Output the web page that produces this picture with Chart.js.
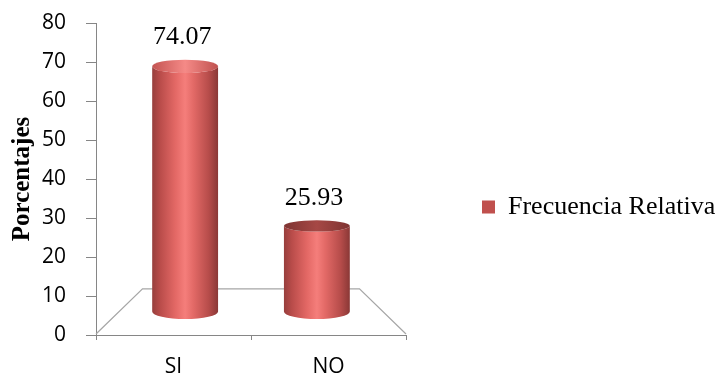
<!DOCTYPE html>
<html><head><meta charset="utf-8">
<script src="https://cdn.jsdelivr.net/npm/chart.js@4/dist/chart.umd.min.js"></script>
<style>html,body{margin:0;padding:0;background:#fff;}#wrap{width:718px;height:378px;}</style>
</head><body><div id="wrap"><canvas id="c" width="718" height="378"></canvas></div>
<script>
const categories = ['SI', 'NO'];
const frecuenciaRelativa = [74.07, 25.93];
const yTicks = [0, 10, 20, 30, 40, 50, 60, 70, 80];
const seriesName = 'Frecuencia Relativa';
const axisTitle = 'Porcentajes';

const S_BAR = 0.85, S_BACK = 0.70;
function vanish(chart){ const a = chart.chartArea; return {x:(a.left+a.right)/2, y:(a.top+a.bottom)/2 + 2}; }
function proj(v, x, y, s){ return {x: v.x + (x - v.x) * s, y: v.y + (y - v.y) * s}; }

function bodyGradient(ctx, x0, x1){
  const g = ctx.createLinearGradient(x0, 0, x1, 0);
  g.addColorStop(0, '#973f3d');
  g.addColorStop(0.12, '#b94c4a');
  g.addColorStop(0.35, '#e36865');
  g.addColorStop(0.5, '#f57e7b');
  g.addColorStop(0.63, '#e26966');
  g.addColorStop(0.86, '#b64c4a');
  g.addColorStop(1, '#8a3836');
  return g;
}
function capGradient(ctx, x0, x1, light){
  const g = ctx.createLinearGradient(x0, 0, x1, 0);
  if (light){
    g.addColorStop(0, '#c45452'); g.addColorStop(0.5, '#f58a87'); g.addColorStop(1, '#c05250');
  } else {
    g.addColorStop(0, '#7e3432'); g.addColorStop(0.5, '#a64845'); g.addColorStop(1, '#7e3432');
  }
  return g;
}

const cylinderPlugin = {
  id: 'cylinders',
  afterInit(chart){
    const lg = chart.legend;
    const origFit = lg.fit.bind(lg);
    lg.fit = function(){ origFit(); this.width = 312; };
  },
  afterLayout(chart){
    const lg = chart.legend;
    const d = 207 - (lg.top + lg.bottom) / 2;
    lg.top += d; lg.bottom += d;
    lg.left = 472;
  },
  beforeDatasetsDraw(chart){
    const ctx = chart.ctx, a = chart.chartArea, v = vanish(chart);
    const y0 = chart.scales.y.getPixelForValue(0);
    const bl = proj(v, a.left, y0, S_BACK), br = proj(v, a.right, y0, S_BACK);
    ctx.save();
    ctx.strokeStyle = '#a6a6a6'; ctx.lineWidth = 1.2;
    ctx.beginPath();
    ctx.moveTo(a.left, y0 - 1); ctx.lineTo(bl.x, bl.y); ctx.lineTo(br.x, br.y); ctx.lineTo(a.right, y0 - 1);
    ctx.stroke();
    ctx.restore();
  },
  beforeDatasetDraw(){ return false; },
  afterDatasetsDraw(chart){
    const ctx = chart.ctx, v = vanish(chart);
    const meta = chart.getDatasetMeta(0);
    const data = chart.data.datasets[0].data;
    ctx.save();
    meta.data.forEach((el, i) => {
      const top = proj(v, el.x, el.y, S_BAR);
      const base = proj(v, el.x, el.base, S_BAR);
      const cx = top.x, rx = el.width * S_BAR / 2;
      const yTop = top.y, yBase = base.y;
      const ryT = 5 + 0.015 * Math.abs(yTop - v.y);
      const ryB = 5 + 0.02 * Math.abs(yBase - v.y);
      ctx.beginPath();
      ctx.moveTo(cx - rx, yTop);
      ctx.lineTo(cx - rx, yBase);
      ctx.ellipse(cx, yBase, rx, ryB, 0, Math.PI, 0, true);
      ctx.lineTo(cx + rx, yTop);
      ctx.ellipse(cx, yTop, rx, ryT, 0, 0, Math.PI, false);
      ctx.closePath();
      ctx.fillStyle = bodyGradient(ctx, cx - rx, cx + rx);
      ctx.fill();
      ctx.beginPath();
      ctx.ellipse(cx, yTop, rx, ryT, 0, 0, Math.PI * 2);
      ctx.fillStyle = capGradient(ctx, cx - rx, cx + rx, yTop < v.y);
      ctx.fill();
      ctx.fillStyle = '#000';
      ctx.font = '26px "Liberation Serif", "Times New Roman", serif';
      ctx.textAlign = 'center'; ctx.textBaseline = 'middle';
      ctx.fillText(Number(data[i]).toFixed(2), cx - 3, yTop - ryT - 22);
    });
    ctx.restore();
  }
};

new Chart(document.getElementById('c'), {
  type: 'bar',
  data: {
    labels: categories,
    datasets: [{
      label: seriesName,
      data: frecuenciaRelativa,
      backgroundColor: '#C0504D',
      borderWidth: 0,
      categoryPercentage: 1.0,
      barPercentage: 0.5
    }]
  },
  options: {
    responsive: false,
    animation: false,
    devicePixelRatio: 1,
    layout: { padding: { top: 23, left: 0, right: 0, bottom: 0 } },
    plugins: {
      tooltip: { enabled: false },
      legend: {
        position: 'right',
        labels: {
          boxWidth: 13, boxHeight: 13, padding: 10,
          color: '#000',
          font: { family: '"Liberation Serif", "Times New Roman", serif', size: 26 }
        }
      }
    },
    scales: {
      x: {
        grid: { drawOnChartArea: false, drawTicks: true, tickLength: 5, color: '#868686', offset: true },
        border: { color: '#868686', width: 1 },
        ticks: { color: '#000', padding: 14, font: { family: '"Open Sans", sans-serif', size: 21 } },
        afterFit(s){ s.height = 43; s.paddingLeft = 0; s.paddingRight = 0; }
      },
      y: {
        min: 0, max: 80,
        afterBuildTicks(s){ s.ticks = yTicks.map(t => ({ value: t })); },
        grid: { drawOnChartArea: false, drawTicks: true, tickLength: 10, color: '#868686' },
        border: { color: '#868686', width: 1 },
        ticks: { color: '#000', padding: 20, font: { family: '"Open Sans", sans-serif', size: 21 } },
        title: {
          display: true, text: axisTitle, color: '#000',
          font: { family: '"Liberation Serif", "Times New Roman", serif', size: 25, weight: 'bold' },
          padding: { top: 8, bottom: 0 }
        },
        afterFit(s){ s.width = 96; s.paddingTop = 0; s.paddingBottom = 0; }
      }
    }
  },
  plugins: [cylinderPlugin]
});
</script>
</body></html>
